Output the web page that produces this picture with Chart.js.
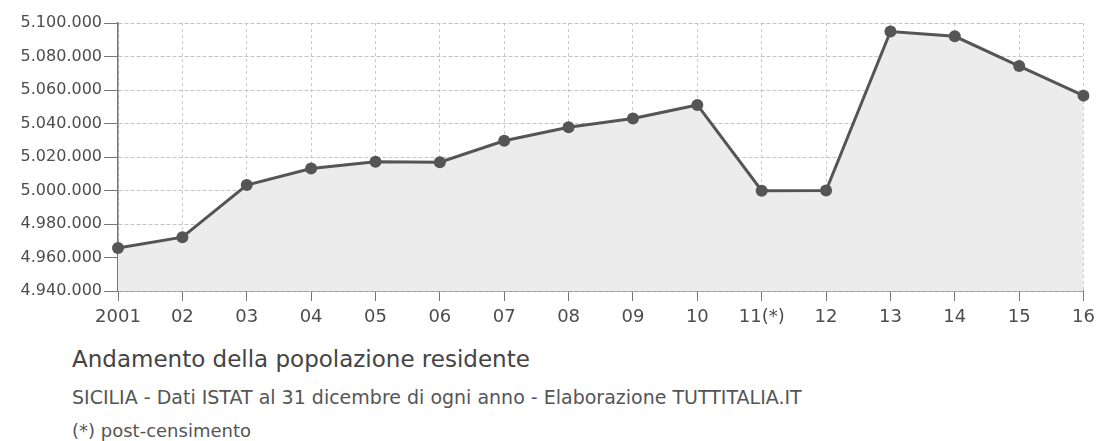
<!DOCTYPE html>
<html>
<head>
<meta charset="utf-8">
<script src="https://cdn.jsdelivr.net/npm/chart.js@4/dist/chart.umd.min.js"></script>
<style>
  body { margin: 0; background: #fff; font-family: "DejaVu Sans", sans-serif; }
  #wrap { position: relative; width: 1101px; height: 340px; }
  .txt { position: absolute; left: 72px; white-space: nowrap; line-height: 1; }
  #titolo { top: 348px; font-size: 23px; color: #444; }
  #sottotitolo { top: 388px; font-size: 19px; color: #555; }
  #nota { top: 422px; font-size: 18px; color: #555; }
</style>
</head>
<body>
<div id="wrap"><canvas id="grafico" width="1101" height="340"></canvas></div>
<div class="txt" id="titolo">Andamento della popolazione residente</div>
<div class="txt" id="sottotitolo">SICILIA - Dati ISTAT al 31 dicembre di ogni anno - Elaborazione TUTTITALIA.IT</div>
<div class="txt" id="nota">(*) post-censimento</div>
<script>
const anni = ["2001", "02", "03", "04", "05", "06", "07", "08", "09", "10", "11(*)", "12", "13", "14", "15", "16"];
const popolazione = [4965669, 4972124, 5003262, 5013081, 5017212, 5016861, 5029683, 5037799, 5042992, 5051075, 4999854, 4999932, 5094937, 5092080, 5074261, 5056641];
const yMin = 4940000;
const yMax = 5100000;
const yPasso = 20000;

// separatore delle migliaia con il punto
const formatta = (v) => String(v).replace(/\B(?=(\d{3})+(?!\d))/g, ".");

new Chart(document.getElementById("grafico"), {
  type: "line",
  data: {
    labels: anni,
    datasets: [{
      data: popolazione,
      borderColor: "#555",
      borderWidth: 3,
      backgroundColor: "#ececec",
      fill: "start",
      tension: 0,
      pointRadius: 6,
      pointBackgroundColor: "#555",
      pointBorderWidth: 0,
    }],
  },
  options: {
    responsive: false,
    animation: false,
    layout: { padding: { top: 23, right: 13, left: 0, bottom: 0 } },
    plugins: { legend: { display: false }, tooltip: { enabled: false } },
    scales: {
      x: {
        offset: false,
        afterFit: (scale) => { scale.height = 49; },
        grid: { color: "#c8c8c8", tickColor: "#777", tickLength: 10, tickBorderDash: [] },
        border: { color: "#777", width: 1.5, dash: [3, 3] },
        ticks: { color: "#4d4d4d", padding: 6, maxRotation: 0, autoSkip: false, font: { family: "DejaVu Sans", size: 18 } },
      },
      y: {
        min: yMin,
        max: yMax,
        afterFit: (scale) => { scale.width = 118; },
        grid: { color: "#c4c4c4", tickColor: "#777", tickLength: 14, tickBorderDash: [] },
        border: { color: "#777", width: 1.5, dash: [4, 2] },
        ticks: { stepSize: yPasso, color: "#4d4d4d", padding: 2, font: { family: "DejaVu Sans", size: 16 }, callback: (v) => formatta(v) },
      },
    },
  },
});
</script>
</body>
</html>
